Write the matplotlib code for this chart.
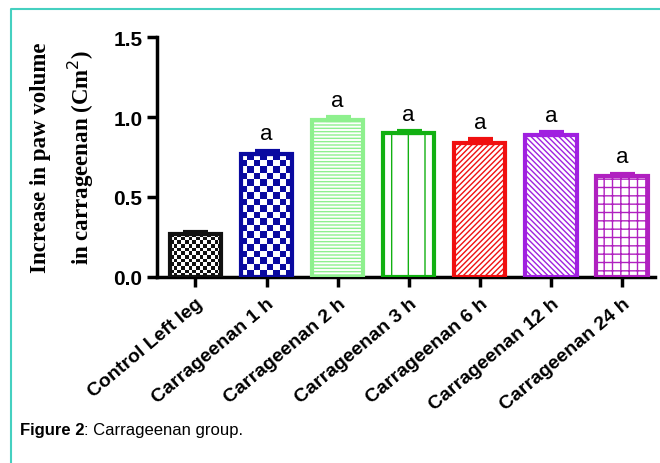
import numpy as np
import matplotlib
matplotlib.use("Agg")
import matplotlib.pyplot as plt
from matplotlib.lines import Line2D

# values
groups = ["Control Left leg", "Carrageenan 1 h", "Carrageenan 2 h", "Carrageenan 3 h",
          "Carrageenan 6 h", "Carrageenan 12 h", "Carrageenan 24 h"]
means = [0.27, 0.77, 0.98, 0.90, 0.84, 0.89, 0.63]
errs = [0.01, 0.02, 0.02, 0.01, 0.02, 0.015, 0.015]
letters = ["", "a", "a", "a", "a", "a", "a"]
colors = ["#111111", "#0a0aa0", "#8ef08e", "#12b012", "#f01010", "#a020e0", "#b020c0"]
hatches = [None, None, "-----", "|", "//////", "\\\\\\\\\\\\", "++"]
checker_cells = [14, 8, 0, 0, 0, 0, 0]  # checkerboard cells across the bar

plt.rcParams["hatch.linewidth"] = 1.0

fig = plt.figure(figsize=(6.6, 4.64), dpi=100)
ax = fig.add_axes([0.238, 0.401, 0.754, 0.517])

x = np.arange(len(groups))
faces = ["none" if n else "white" for n in checker_cells]
bars = ax.bar(x, means, width=0.72, color=faces, edgecolor=colors,
              linewidth=3, zorder=3)
for b, h in zip(bars, hatches):
    if h:
        b.set_hatch(h)

# checkerboard fill for the first two bars
for b, n, c in zip(bars, checker_cells, colors):
    if n == 0:
        continue
    x0, y0 = b.get_x(), b.get_y()
    w, hgt = b.get_width(), b.get_height()
    rows = max(1, int(round(hgt * 160 / (51.0 / n))))  # ~square cells in pixels
    cb = (np.add.outer(np.arange(rows), np.arange(n)) % 2).astype(float)
    cmap = matplotlib.colors.ListedColormap(["white", c])
    im = ax.imshow(cb, extent=[x0, x0 + w, y0, y0 + hgt], cmap=cmap,
                   interpolation="nearest", aspect="auto", zorder=2, origin="lower")
    im.set_clip_path(b)

for xi, m, e, c in zip(x, means, errs, colors):
    ax.errorbar(xi, m, yerr=[[0], [e]], fmt="none", ecolor=c, elinewidth=3,
                capsize=9, capthick=3, zorder=4)

for xi, m, e, t in zip(x, means, errs, letters):
    if t:
        ax.text(xi, m + e + 0.04, t, ha="center", va="bottom",
                fontsize=16, family="Liberation Sans")

ax.set_xlim(-0.54, 6.46)
ax.set_ylim(0, 1.5)
ax.set_yticks([0.0, 0.5, 1.0, 1.5])
ax.set_yticklabels(["0.0", "0.5", "1.0", "1.5"], fontsize=15, fontweight="bold",
                   family="Liberation Sans")
ax.set_xticks(x)
ax.set_xticklabels(groups, rotation=40, ha="right", rotation_mode="anchor",
                   fontsize=14, fontweight="bold", family="Liberation Sans")
ax.tick_params(axis="both", width=2.5, length=7, direction="out")
ax.tick_params(axis="x", pad=6)
for s in ["top", "right"]:
    ax.spines[s].set_visible(False)
for s in ["left", "bottom"]:
    ax.spines[s].set_linewidth(2.5)

fig.text(0.062, 0.66, "Increase in paw volume", rotation=90, ha="center", va="center",
         fontsize=16.5, fontweight="bold", family="Liberation Serif")
fig.text(0.122, 0.66, "in carrageenan (Cm$^2$)", rotation=90, ha="center", va="center",
         fontsize=16.5, fontweight="bold", family="Liberation Serif")

# caption
fig.text(0.03, 0.073, "Figure 2", fontsize=12, fontweight="bold", family="Liberation Sans",
         va="center")
fig.text(0.128, 0.073, ": Carrageenan group.", fontsize=12, family="Liberation Sans",
         va="center")

# teal frame
fig.add_artist(Line2D([11 / 660, 11 / 660, 1.0], [0, 1 - 10 / 464, 1 - 10 / 464],
                      transform=fig.transFigure, color="#45d0c0", lw=1.5))

fig.savefig("out.png", dpi=100)
